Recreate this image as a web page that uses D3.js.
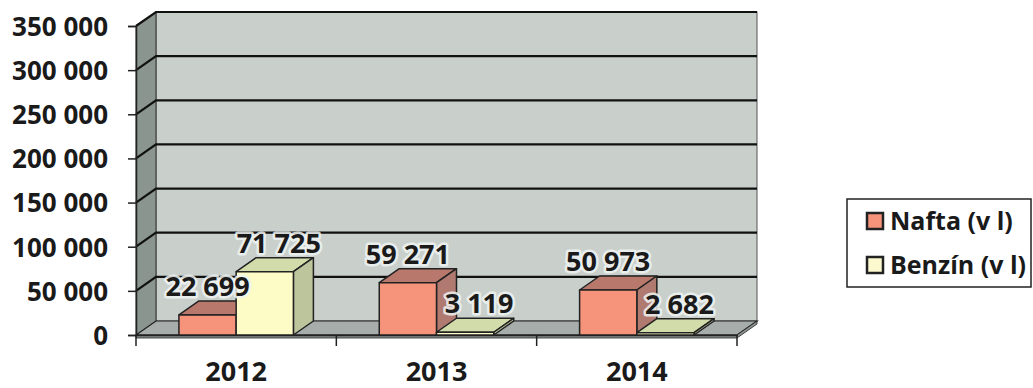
<!DOCTYPE html>
<html>
<head>
<meta charset="utf-8">
<script src="https://cdn.jsdelivr.net/npm/d3@7"></script>
<style>
  html, body { margin: 0; padding: 0; background: #ffffff; }
  svg { display: block; }
  text { font-family: "Open Sans", "Liberation Sans", sans-serif; font-weight: 700; fill: #1a1a1a; }
</style>
</head>
<body>
<div id="chart"></div>
<script>
// ---- data ----
const years = ["2012", "2013", "2014"];
const seriesNames = ["Nafta (v l)", "Benzín (v l)"];
const naftaValues = [22699, 59271, 50973];
const benzinValues = [71725, 3119, 2682];
const yTickValues = [0, 50000, 100000, 150000, 200000, 250000, 300000, 350000];

// ---- styles ----
const W = 1033, H = 388;
const DX = 20, DY = -14;           // 3D depth offset
const colors = {
  "Nafta (v l)":  { front: "#f5937b", top: "#b9786c", side: "#b07a70", swatch: "#f5937b" },
  "Benzín (v l)": { front: "#fdfbc6", top: "#d2dcaa", side: "#bcc59c", swatch: "#fdf9cf" }
};

const svg = d3.select("#chart").append("svg").attr("width", W).attr("height", H);

const x = d3.scaleBand().domain(years).range([136, 737]);
const x1 = d3.scaleBand().domain(seriesNames).range([0, x.bandwidth()]).paddingInner(0).paddingOuter(0.75);
const y = d3.scaleLinear().domain([0, 350000]).range([335, 26]);

const fmt = v => d3.format(",")(v).replace(/,/g, " ");

// walls
const x0 = x.range()[0], xEnd = x.range()[1];
const yTop = y(350000), yBot = y(0);
// back wall
svg.append("rect")
  .attr("x", x0 + DX).attr("y", yTop + DY)
  .attr("width", xEnd - x0).attr("height", yBot - yTop)
  .attr("fill", "#c9d0cc").attr("stroke", "#555").attr("stroke-width", 1);
// side wall
svg.append("polygon")
  .attr("points", [[x0, yTop], [x0 + DX, yTop + DY], [x0 + DX, yBot + DY], [x0, yBot]].map(p => p.join(",")).join(" "))
  .attr("fill", "#8a958f").attr("stroke", "#333").attr("stroke-width", 1);
// floor
svg.append("polygon")
  .attr("points", [[x0, yBot], [x0 + DX, yBot + DY], [xEnd + DX, yBot + DY], [xEnd, yBot]].map(p => p.join(",")).join(" "))
  .attr("fill", "#a7adaa").attr("stroke", "#222").attr("stroke-width", 1.2);
svg.append("polygon")
  .attr("points", [[x0, yBot], [xEnd, yBot], [xEnd + DX, yBot + DY], [xEnd + DX, yBot + DY + 3], [xEnd, yBot + 3], [x0, yBot + 3]].map(p => p.join(",")).join(" "))
  .attr("fill", "#8d9390").attr("stroke", "#222").attr("stroke-width", 0.8);

// gridlines
yTickValues.filter(v => v > 0).forEach(v => {
  const yy = y(v);
  svg.append("polyline")
    .attr("points", [[x0, yy], [x0 + DX, yy + DY], [xEnd + DX, yy + DY]].map(p => p.join(",")).join(" "))
    .attr("fill", "none").attr("stroke", "#111").attr("stroke-width", 2.2);
});

// y axis
const yAxis = d3.axisLeft(y).tickValues(yTickValues).tickSize(8).tickPadding(20).tickFormat(fmt);
const gy = svg.append("g").attr("transform", `translate(${x0},0)`).call(yAxis);
gy.select(".domain").attr("stroke", "#222").attr("stroke-width", 1.5);
gy.selectAll(".tick line").attr("stroke", "#222").attr("stroke-width", 1.5);
gy.selectAll(".tick text").attr("font-size", 26).attr("dy", "0.36em")
  .style("font-family", "'Open Sans', sans-serif").style("font-weight", 700).attr("fill", "#1a1a1a");

// x axis
const xAxis = d3.axisBottom(x).tickSize(0).tickPadding(38);
const gx = svg.append("g").attr("transform", `translate(0,${yBot})`).call(xAxis);
gx.select(".domain").attr("stroke", "#222").attr("stroke-width", 1.5);
gx.selectAll(".tick text").attr("font-size", 27).attr("dy", "0.3em")
  .style("font-family", "'Open Sans', sans-serif").style("font-weight", 700).attr("fill", "#1a1a1a");
// category boundary ticks
gx.selectAll(".sep").data(d3.range(years.length + 1)).enter().append("line")
  .attr("x1", i => x0 + i * x.step()).attr("x2", i => x0 + i * x.step())
  .attr("y1", 0).attr("y2", 11).attr("stroke", "#222").attr("stroke-width", 1.5);

// bars
const barData = [];
years.forEach((yr, i) => {
  barData.push({ year: yr, series: seriesNames[0], value: naftaValues[i] });
  barData.push({ year: yr, series: seriesNames[1], value: benzinValues[i] });
});

const gBars = svg.append("g");
barData.forEach(d => {
  const bx = x(d.year) + x1(d.series);
  const bw = x1.bandwidth();
  const by = y(d.value);
  const c = colors[d.series];
  const g = gBars.append("g").attr("stroke", "#222").attr("stroke-width", 1.5).attr("stroke-linejoin", "round");
  // top
  g.append("polygon")
    .attr("points", [[bx, by], [bx + DX, by + DY], [bx + bw + DX, by + DY], [bx + bw, by]].map(p => p.join(",")).join(" "))
    .attr("fill", c.top);
  // side
  g.append("polygon")
    .attr("points", [[bx + bw, by], [bx + bw + DX, by + DY], [bx + bw + DX, yBot + DY], [bx + bw, yBot]].map(p => p.join(",")).join(" "))
    .attr("fill", c.side);
  // front
  g.append("rect").attr("x", bx).attr("y", by).attr("width", bw).attr("height", yBot - by).attr("fill", c.front);
});

// data labels
const labelShift = { "Nafta (v l)": 0, "Benzín (v l)": 14 };
svg.append("g").selectAll("text").data(barData).enter().append("text")
  .attr("x", d => x(d.year) + x1(d.series) + x1.bandwidth() / 2 + labelShift[d.series])
  .attr("y", d => y(d.value) - 19)
  .attr("text-anchor", "middle")
  .attr("font-size", 27)
  .attr("stroke", "rgba(240,244,242,0.85)").attr("stroke-width", 5)
  .attr("paint-order", "stroke").attr("stroke-linejoin", "round")
  .text(d => fmt(d.value));

// legend
const lg = svg.append("g");
lg.append("rect").attr("x", 847).attr("y", 199).attr("width", 184).attr("height", 88)
  .attr("fill", "#fff").attr("stroke", "#222").attr("stroke-width", 1.5);
seriesNames.forEach((s, i) => {
  const ly = 213 + i * 44;
  lg.append("rect").attr("x", 867).attr("y", ly).attr("width", 16).attr("height", 16)
    .attr("fill", colors[s].swatch).attr("stroke", "#222").attr("stroke-width", 2.5);
  lg.append("text").attr("x", 890).attr("y", ly + 17).attr("font-size", 25).text(s);
});
</script>
</body>
</html>
